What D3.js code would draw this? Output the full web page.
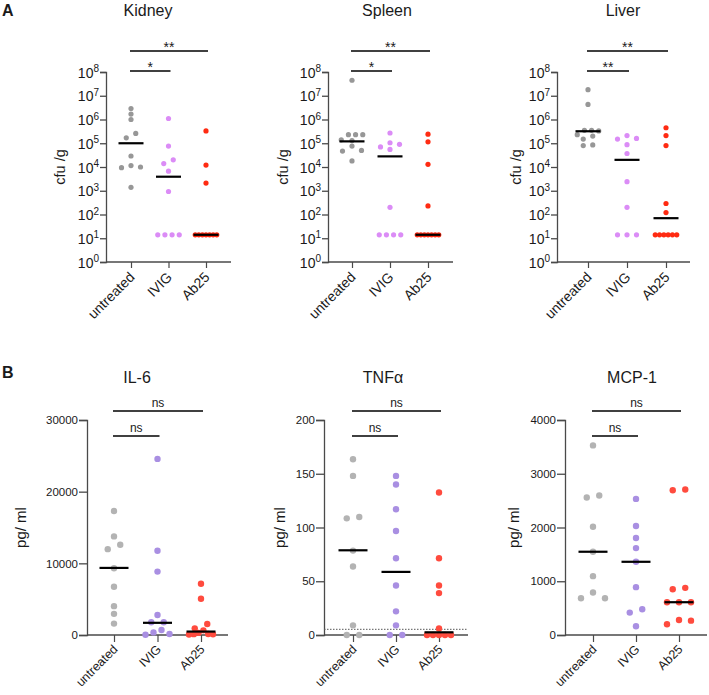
<!DOCTYPE html>
<html>
<head>
<meta charset="utf-8">
<script src="https://cdn.jsdelivr.net/npm/d3@7"></script>
<style>
  body { margin: 0; background: #fff; }
  text { font-family: "Liberation Sans", Arial, Helvetica, sans-serif; fill: #1a1a1a; }
</style>
</head>
<body>
<script>
var groups = ["untreated", "IVIG", "Ab25"];

// panel A, cfu/g per group (untreated, IVIG, Ab25)
var kidneyCfu = [
  [2.9e6, 1.7e6, 1.0e6, 2.6e5, 1.7e5, 2.9e4, 1.15e4, 9.4e3, 1.0e4, 1.4e3],
  [1.1e6, 7.6e4, 2.0e4, 1.4e4, 6.7e3, 930, 14, 14, 14, 14],
  [3.3e5, 1.2e4, 2.1e3, 14, 14, 14, 14, 14, 14, 14]
];
var kidneyMedian = [1.0e5, 3.9e3, 14];
var kidneySig = ["*", "**"];

var spleenCfu = [
  [4.5e7, 2.3e5, 2.3e5, 2.3e5, 1.4e5, 1.3e5, 7.6e4, 5.0e4, 4.7e4, 1.8e4],
  [2.7e5, 1.05e5, 9.0e4, 7.0e4, 5.5e4, 200, 14, 14, 14, 14],
  [2.4e5, 1.15e5, 1.3e4, 230, 14, 14, 14, 14, 14, 14, 14]
];
var spleenMedian = [1.2e5, 2.8e4, 14];
var spleenSig = ["*", "**"];

var liverCfu = [
  [1.8e7, 4.3e6, 3.5e5, 3.5e5, 3.3e5, 2.3e5, 2.0e5, 1.5e5, 8.5e4, 8.0e4],
  [2.1e5, 1.6e5, 1.5e5, 8.7e4, 3.7e4, 2.4e3, 200, 14, 14, 14],
  [4.5e5, 2.1e5, 8.0e4, 290, 120, 14, 14, 14, 14, 14, 14]
];
var liverMedian = [3.2e5, 2.0e4, 70];
var liverSig = ["**", "**"];

var logTicks = [1, 10, 100, 1e3, 1e4, 1e5, 1e6, 1e7, 1e8];

// panel B, pg/ml per group
var il6 = [
  [17300, 13760, 12590, 11980, 9310, 6740, 4025, 2950, 1590],
  [24570, 11750, 8850, 2800, 1770, 1770, 700, 365, 140, 40],
  [7160, 5060, 1545, 930, 650, 300, 150, 120, 100, 80]
];
var il6Median = [9360, 1700, 480];
var il6Ticks = [0, 10000, 20000, 30000];

var tnf = [
  [163.5, 148, 109.7, 108.5, 78.5, 63.7, 9, 0, 0],
  [148, 140, 117, 96.7, 71.4, 46, 22, 9, 0, 0],
  [132.6, 71.4, 46, 39, 6, 0, 0, 0, 0, 0]
];
var tnfMedian = [78.8, 58.7, 2.5];
var tnfTicks = [0, 50, 100, 150, 200];
var tnfLimit = 5.3;

var mcp1 = [
  [3527, 2594, 2557, 2015, 1549, 1095, 790, 684, 684],
  [2532, 2028, 1804, 1617, 1362, 890, 479, 417, 162],
  [2706, 2694, 877, 852, 610, 610, 610, 280, 267, 199]
];
var mcp1Median = [1549, 1362, 610];
var mcp1Ticks = [0, 1000, 2000, 3000, 4000];

var nsSig = ["ns", "ns"];

var colorsA = ["#979797", "#db8cf6", "#ff2b12"];
var colorsB = ["#b3b3b3", "#a98fe2", "#ff4b3e"];

var width = 709, height = 695;
var svg = d3.select("body").append("svg")
    .attr("width", width)
    .attr("height", height);

var panelsA = [
  {title: "Kidney", data: kidneyCfu, med: kidneyMedian, sig: kidneySig, axisX: 106, axisEnd: 231, c0: 131, c2: 206, titleX: 148, labelX: 60},
  {title: "Spleen", data: spleenCfu, med: spleenMedian, sig: spleenSig, axisX: 328, axisEnd: 453, c0: 352, c2: 428, titleX: 387, labelX: 283},
  {title: "Liver", data: liverCfu, med: liverMedian, sig: liverSig, axisX: 557, axisEnd: 690, c0: 588, c2: 666, titleX: 623, labelX: 516}
];

var panelsB = [
  {title: "IL-6", data: il6, med: il6Median, ticks: il6Ticks, axisX: 87, axisEnd: 228, c0: 114, c2: 201, titleX: 137, labelX: 21},
  {title: "TNFα", data: tnf, med: tnfMedian, ticks: tnfTicks, axisX: 324, axisEnd: 468, c0: 353, c2: 439, titleX: 383, labelX: 280, limit: tnfLimit},
  {title: "MCP-1", data: mcp1, med: mcp1Median, ticks: mcp1Ticks, axisX: 565, axisEnd: 707, c0: 593, c2: 679, titleX: 632, labelX: 514}
];

// lay points of similar height out in centered rows, like the prism scatter
function spread(vals, y, r, step, maxSpan) {
  var pts = vals.map(function(v) { return {v: v, py: y(v)}; })
    .sort(function(a, b) { return a.py - b.py; });
  var rows = [], cur = null;
  pts.forEach(function(p) {
    if (cur && p.py - cur[0].py < 2 * r) cur.push(p);
    else { cur = [p]; rows.push(cur); }
  });
  rows.forEach(function(row) {
    var n = row.length;
    var s = n > 1 ? Math.min(step, maxSpan / (n - 1)) : 0;
    var slots = d3.range(n).map(function(i) { return i - (n - 1) / 2; });
    slots.sort(function(a, b) { return Math.abs(a) - Math.abs(b) || b - a; });
    row.forEach(function(p, i) { p.dx = slots[i] * s; });
  });
  return pts;
}

function drawPanel(p, o) {
  var g = svg.append("g");
  var x = d3.scalePoint().domain(groups).range([p.c0, p.c2]);
  var y = o.log
    ? d3.scaleLog().domain([1, 1e8]).range([o.yb, o.yt])
    : d3.scaleLinear().domain([0, d3.max(p.ticks)]).range([o.yb, o.yt]);

  // y axis
  var yAxis = d3.axisLeft(y).tickSizeOuter(0).tickSize(o.tickLen).tickPadding(1);
  if (o.log) yAxis.tickValues(logTicks).tickFormat("");
  else yAxis.tickValues(p.ticks).tickFormat(d3.format("d"));
  var ya = g.append("g")
      .attr("transform", "translate(" + p.axisX + ",0)")
      .call(yAxis);
  ya.selectAll("path, line").attr("stroke", "#4a4a4a").attr("stroke-width", 1.3);
  ya.selectAll("text").style("font-size", o.tickFont + "px").attr("fill", "#1a1a1a");
  if (o.log) {
    var lab = ya.selectAll(".tick").append("text")
        .attr("x", -o.tickLen - 1)
        .attr("dy", "0.36em")
        .attr("text-anchor", "end")
        .style("font-size", "14px");
    lab.append("tspan").text("10");
    lab.append("tspan")
        .attr("dy", "-0.55em")
        .style("font-size", "10px")
        .text(function(d) { return Math.round(Math.log10(d)); });
  }

  // x axis
  g.append("line")
      .attr("x1", p.axisX).attr("x2", p.axisEnd)
      .attr("y1", o.yb).attr("y2", o.yb)
      .attr("stroke", "#4a4a4a").attr("stroke-width", 1.3);
  var xa = g.append("g")
      .attr("transform", "translate(0," + o.yb + ")")
      .call(d3.axisBottom(x).tickSize(o.xTick).tickSizeOuter(0).tickPadding(0));
  xa.select(".domain").remove();
  xa.selectAll("line").attr("stroke", "#4a4a4a").attr("stroke-width", 1.2);
  xa.selectAll("text")
      .style("font-size", o.catFont + "px")
      .style("text-anchor", "end")
      .attr("fill", "#1a1a1a")
      .attr("dy", null)
      .attr("y", 0)
      .attr("transform", "translate(" + o.catDx + "," + o.catDy + ") rotate(-45)");

  // detection limit
  if (p.limit != null) {
    g.append("line")
        .attr("x1", p.axisX).attr("x2", p.axisEnd)
        .attr("y1", y(p.limit)).attr("y2", y(p.limit))
        .attr("stroke", "#555").attr("stroke-width", 1)
        .attr("stroke-dasharray", "1.5,1.5");
  }

  // points
  p.data.forEach(function(vals, gi) {
    var pts = spread(vals, y, o.r, o.step, o.maxSpan);
    g.selectAll(null)
        .data(pts)
      .enter().append("circle")
        .attr("cx", function(d) { return x(groups[gi]) + d.dx; })
        .attr("cy", function(d) { return d.py; })
        .attr("r", o.r)
        .style("fill", o.colors[gi]);
  });

  // medians
  g.selectAll(null)
      .data(p.med)
    .enter().append("line")
      .attr("x1", function(d, i) { return x(groups[i]) - o.medHalf; })
      .attr("x2", function(d, i) { return x(groups[i]) + o.medHalf; })
      .attr("y1", function(d) { return y(d); })
      .attr("y2", function(d) { return y(d); })
      .attr("stroke", "#000").attr("stroke-width", 2.2);

  // significance bars: [vs IVIG, vs Ab25]
  [groups[1], groups[2]].forEach(function(target, i) {
    var ly = o.sigY[i];
    var x1 = x(groups[0]) - 1, x2 = x(target) + 2;
    g.append("line")
        .attr("x1", x1).attr("x2", x2)
        .attr("y1", ly).attr("y2", ly)
        .attr("stroke", "#000").attr("stroke-width", 1.4);
    g.append("text")
        .attr("x", (x1 + x2) / 2)
        .attr("y", ly + o.sigDy)
        .attr("text-anchor", "middle")
        .style("font-size", o.sigFont + "px")
        .text(p.sig ? p.sig[i] : nsSig[i]);
  });

  // title and y label
  g.append("text")
      .attr("x", p.titleX).attr("y", o.titleY)
      .attr("text-anchor", "middle")
      .style("font-size", "16px")
      .text(p.title);
  g.append("text")
      .attr("transform", "translate(" + p.labelX + "," + ((o.yb + o.yt) / 2) + ") rotate(-90)")
      .attr("dy", "0.35em")
      .attr("text-anchor", "middle")
      .style("font-size", o.labelFont + "px")
      .text(o.yLabel);
}

var optA = {log: true, yt: 72, yb: 262, tickLen: 6, tickFont: 14, xTick: 6, catFont: 14, catDx: 4, catDy: 16,
  r: 2.6, step: 9.5, maxSpan: 21.5, colors: colorsA, medHalf: 12.5, sigY: [71, 51], sigDy: 1, sigFont: 14,
  titleY: 16, labelFont: 14.5, yLabel: "cfu /g"};
var optB = {log: false, yt: 420, yb: 635, tickLen: 8, tickFont: 11.5, xTick: 7, catFont: 12.5, catDx: 4, catDy: 15,
  r: 3.2, step: 12.5, maxSpan: 24, colors: colorsB, medHalf: 14.5, sigY: [436, 411], sigDy: -4.5, sigFont: 12,
  titleY: 383, labelFont: 15, yLabel: "pg/ ml"};

panelsA.forEach(function(p) { drawPanel(p, optA); });
panelsB.forEach(function(p) { drawPanel(p, optB); });

svg.append("text").attr("x", 2).attr("y", 16)
    .style("font-size", "16px").style("font-weight", "bold").text("A");
svg.append("text").attr("x", 2).attr("y", 378)
    .style("font-size", "16px").style("font-weight", "bold").text("B");
</script>
</body>
</html>
